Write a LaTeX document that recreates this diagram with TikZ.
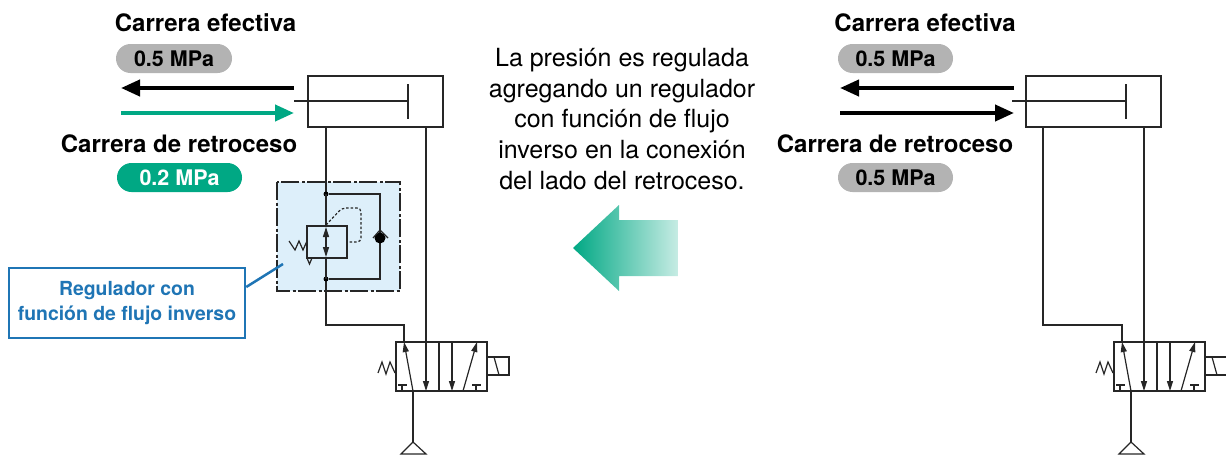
\documentclass[tikz,border=0pt]{standalone}
\usepackage{fontspec}
\setmainfont{TeX Gyre Heros}
\usetikzlibrary{arrows.meta}
\definecolor{sgreen}{HTML}{00A884}
\definecolor{spill}{HTML}{B3B3B3}
\definecolor{sblue}{HTML}{1F75B5}
\definecolor{slight}{HTML}{DDEFFA}
\definecolor{sline}{HTML}{262626}
\tikzset{
  ln/.style={draw=sline,line width=1.2pt},
  tipsmall/.style={-{Triangle[length=10pt,width=6pt]}},
  lbl/.style={font=\fontsize{24}{28}\selectfont\bfseries,text=black,inner sep=0pt,anchor=center},
  pill/.style={rounded corners=14.5pt,minimum height=29pt,inner sep=0pt,font=\fontsize{21.5}{25}\selectfont\bfseries,anchor=center},
  bigarrow/.style={line width=4pt,-{Triangle[length=19pt,width=16pt]},shorten >=0pt},
  dotn/.style={circle,fill=black,inner sep=0pt,minimum size=5pt},
}
% cylinder, rod and 5/2 valve, origin of the left-hand set
\newcommand{\circuit}{%
  \draw[ln] (308,76) rectangle (443,127);
  \draw[ln] (408,84) -- (408,119);
  \coordinate (rodend) at (294,101);
  \coordinate (pist) at (408,101);
  \draw[ln] (rodend) -- (pist);
  \draw[ln] (396,342) rectangle (487,391);
  \draw[ln] (439,342) -- (439,391);
  \draw[ln,tipsmall] (413,391) -- (404,342);
  \draw[ln,tipsmall] (452,342) -- (452,391);
  \draw[ln,tipsmall] (463,391) -- (477,342);
  \draw[ln,tipsmall] (426,127) -- (426,391);
  \draw[ln] (402,391) -- (402,385) (398,385) -- (407,385);
  \draw[ln] (476,391) -- (476,385) (472,385) -- (481,385);
  \draw[ln] (395,373) -- (390,362) -- (386,374) -- (382,362) -- (378,373);
  \draw[ln] (487,357) rectangle (509,375);
  \draw[ln] (494,357) -- (499,375);
  \coordinate (ex) at (413,442);
  \draw[ln] (413,391) -- (ex);
  \draw[ln] (ex) -- (401,454) -- (426,454) -- cycle;
}
\begin{document}
\begin{tikzpicture}[x=1pt,y=-1pt]
\useasboundingbox (0,0) rectangle (1226,455);
% ---- regulator box
\draw[fill=slight,draw=sline,line width=1.2pt,dash pattern=on 18pt off 2.5pt on 3pt off 2.5pt] (277,182) rectangle (400,291);
\circuit
\draw[ln] (326,127) -- (326,325) -- (404,325) -- (404,342);
\node[dotn] (d1) at (326,194) {};
\node[dotn] (d2) at (326,279) {};
\draw[ln] (d1) -- (380,194) -- (380,279) -- (d2);
\draw[ln,fill=slight] (307,226) rectangle (347,258);
\draw[ln,tipsmall] (326,242) -- (326,227);
\draw[ln,tipsmall] (326,242) -- (326,257);
\draw[ln] (326,258) -- (326,279);
\draw[ln] (326,194) -- (326,226);
\draw[ln] (289,241) -- (295,250) -- (299,241) -- (303,250) -- (307,241);
\draw[ln] (307,258) -- (309.5,264) -- (312,258);
\draw[draw=sline,line width=1.2pt,dash pattern=on 2.5pt off 2pt,rounded corners=4pt] (326,225) -- (342,208) -- (361,208) -- (361,242) -- (347,242);
\fill[black] (380,238) circle (5.5pt);
\draw[ln] (373,238) -- (380,230) -- (388,238);
% leader
\coordinate (lead) at (283,264);
% ---- right-hand set
\begin{scope}[xshift=718pt]
\circuit
\end{scope}
\draw[ln] (1043,127) -- (1043,325) -- (1122,325) -- (1122,342);
% ---- labels left
\node[lbl] (l1) at (205.5,23) {Carrera efectiva};
\node[pill,fill=spill,minimum width=116pt] (p1) at (174,58.5) {0.5 MPa};
\node[lbl] (l2) at (179,144) {Carrera de retroceso};
\node[pill,fill=sgreen,text=white,minimum width=125pt] (p2) at (179.5,177.5) {0.2 MPa};
\coordinate (a1s) at (294,88); \coordinate (a1e) at (121,88);
\coordinate (a2s) at (121,113); \coordinate (a2e) at (294,113);
\draw[bigarrow,black] (a1s) -- (a1e);
\draw[bigarrow,sgreen] (a2s) -- (a2e);
% ---- labels right
\node[lbl] (r1) at (925,23) {Carrera efectiva};
\node[pill,fill=spill,minimum width=115pt] (p3) at (895.5,58.5) {0.5 MPa};
\node[lbl] (r2) at (895,144) {Carrera de retroceso};
\node[pill,fill=spill,minimum width=115pt] (p4) at (895.5,177.5) {0.5 MPa};
\coordinate (a3s) at (1014,88); \coordinate (a3e) at (840,88);
\coordinate (a4s) at (840,113); \coordinate (a4e) at (1014,113);
\draw[bigarrow,black] (a3s) -- (a3e);
\draw[bigarrow,black] (a4s) -- (a4e);
% ---- centre text
\node[inner sep=0pt,align=center,anchor=center,font=\fontsize{25}{30.6}\selectfont] (txt) at (622,119) {La presión es regulada\\agregando un regulador\\con función de flujo\\inverso en la conexión\\del lado del retroceso.};
% ---- big arrow
\shade[left color=sgreen,right color=sgreen!22!white] (573,248) -- (619,205) -- (619,220) -- (678,220) -- (678,276) -- (619,276) -- (619,291) -- cycle;
% ---- callout
\node[draw=sblue,line width=2.5pt,fill=white,text=sblue,align=center,inner sep=0pt,minimum width=236pt,minimum height=70pt,font=\fontsize{19.4}{25}\selectfont\bfseries,anchor=center] (reg) at (127,303) {Regulador con\\función de flujo inverso};
\draw[draw=sblue,line width=2.5pt] (reg.east |- 0,287) -- (lead);
\end{tikzpicture}
\end{document}
